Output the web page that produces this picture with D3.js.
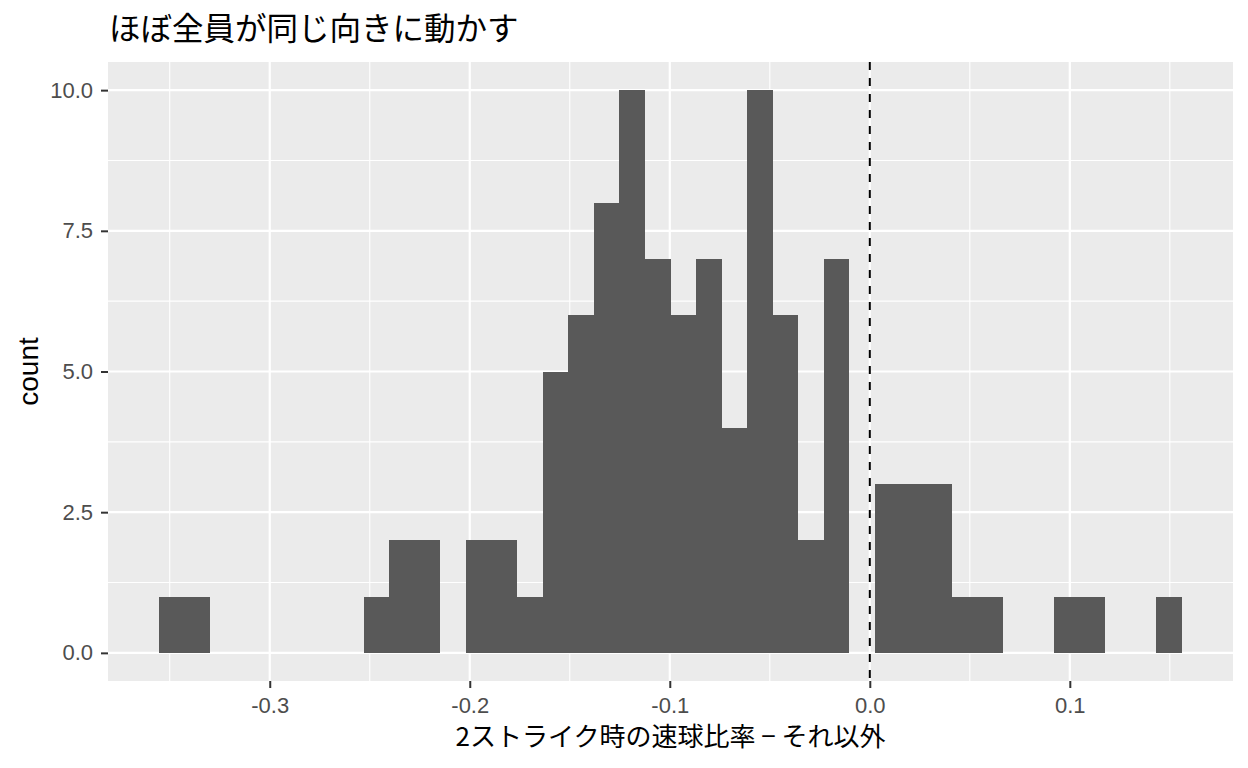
<!DOCTYPE html>
<html>
<head>
<meta charset="utf-8">
<script src="https://cdn.jsdelivr.net/npm/d3@7"></script>
<style>
  body { margin: 0; background: #ffffff; }
</style>
</head>
<body>
<svg id="chart" width="1248" height="768"></svg>
<script>
let width = 1248;
let height = 768;

// histogram bins (40 bins)
const binStart = -0.3553;
const binWidth = 0.012783;
const counts = [1, 1, 0, 0, 0, 0, 0, 0, 1, 2, 2, 0, 2, 2, 1, 5, 6, 8, 10, 7, 6, 7, 4, 10, 6, 2, 7, 0, 3, 3, 3, 1, 1, 0, 0, 1, 1, 0, 0, 1];

const xTicks = [-0.3, -0.2, -0.1, 0.0, 0.1];
const xMinor = [-0.35, -0.25, -0.15, -0.05, 0.05, 0.15];
const yTicks = [0, 2.5, 5, 7.5, 10];
const yMinor = [1.25, 3.75, 6.25, 8.75];
const refLine = 0;

const titleText = "ほぼ全員が同じ向きに動かす";
const xTitle = "2ストライク時の速球比率 − それ以外";
const yTitle = "count";

let panel = { left: 108, right: 1233, top: 62, bottom: 681 };

let bins = counts.map((c, i) => ({
  x0: binStart + i * binWidth,
  x1: binStart + (i + 1) * binWidth,
  n: c
}));

// ggplot style 5% expansion
let xLo = binStart;
let xHi = binStart + counts.length * binWidth;
let xPad = (xHi - xLo) * 0.05;
let yHi = d3.max(counts);
let yPad = yHi * 0.05;

let x = d3.scaleLinear()
  .domain([xLo - xPad, xHi + xPad])
  .range([panel.left, panel.right]);

let y = d3.scaleLinear()
  .domain([0 - yPad, yHi + yPad])
  .range([panel.bottom, panel.top]);

let fmt = d3.formatLocale({ decimal: ".", thousands: ",", grouping: [3], currency: ["", ""], minus: "-" }).format(".1f");

let svg = d3.select("#chart");

svg.append("rect")
  .attr("width", width)
  .attr("height", height)
  .attr("fill", "#ffffff");

svg.append("rect")
  .attr("x", panel.left)
  .attr("y", panel.top)
  .attr("width", panel.right - panel.left)
  .attr("height", panel.bottom - panel.top)
  .attr("fill", "#EBEBEB");

let grid = svg.append("g");

grid.selectAll(".xminor")
  .data(xMinor)
  .enter()
  .append("line")
  .attr("x1", d => x(d)).attr("x2", d => x(d))
  .attr("y1", panel.top).attr("y2", panel.bottom)
  .attr("stroke", "#ffffff")
  .attr("stroke-width", 1.1);

grid.selectAll(".yminor")
  .data(yMinor)
  .enter()
  .append("line")
  .attr("x1", panel.left).attr("x2", panel.right)
  .attr("y1", d => y(d)).attr("y2", d => y(d))
  .attr("stroke", "#ffffff")
  .attr("stroke-width", 1.1);

grid.selectAll(".xmajor")
  .data(xTicks)
  .enter()
  .append("line")
  .attr("x1", d => x(d)).attr("x2", d => x(d))
  .attr("y1", panel.top).attr("y2", panel.bottom)
  .attr("stroke", "#ffffff")
  .attr("stroke-width", 2.2);

grid.selectAll(".ymajor")
  .data(yTicks)
  .enter()
  .append("line")
  .attr("x1", panel.left).attr("x2", panel.right)
  .attr("y1", d => y(d)).attr("y2", d => y(d))
  .attr("stroke", "#ffffff")
  .attr("stroke-width", 2.2);

// bars, snapped to pixels so neighbours join without seams
svg.append("g")
  .attr("shape-rendering", "crispEdges")
  .selectAll("rect")
  .data(bins.filter(d => d.n > 0))
  .enter()
  .append("rect")
  .attr("x", d => Math.round(x(d.x0)))
  .attr("width", d => Math.round(x(d.x1)) - Math.round(x(d.x0)))
  .attr("y", d => y(d.n))
  .attr("height", d => y(0) - y(d.n))
  .attr("fill", "#595959");

svg.append("line")
  .attr("x1", x(refLine)).attr("x2", x(refLine))
  .attr("y1", panel.top).attr("y2", panel.bottom)
  .attr("stroke", "#000000")
  .attr("stroke-width", 2)
  .attr("stroke-dasharray", "8,8");

let xAxis = svg.append("g")
  .attr("transform", `translate(0,${panel.bottom})`)
  .call(d3.axisBottom(x).tickValues(xTicks).tickFormat(fmt).tickSize(7).tickPadding(9));

let yAxis = svg.append("g")
  .attr("transform", `translate(${panel.left},0)`)
  .call(d3.axisLeft(y).tickValues(yTicks).tickFormat(fmt).tickSize(7).tickPadding(8));

[xAxis, yAxis].forEach(a => {
  a.select(".domain").remove();
  a.selectAll(".tick line").attr("stroke", "#333333").attr("stroke-width", 2);
  a.selectAll(".tick text")
    .attr("fill", "#4D4D4D")
    .style("font-family", "'Liberation Sans', Arial, sans-serif")
    .style("font-size", "22px");
});

svg.append("text")
  .attr("x", panel.left + 1)
  .attr("y", 40)
  .style("font-family", "'Noto Sans CJK JP', sans-serif")
  .style("font-size", "31.5px")
  .attr("fill", "#000000")
  .text(titleText);

svg.append("text")
  .attr("x", (panel.left + panel.right) / 2)
  .attr("y", 746)
  .attr("text-anchor", "middle")
  .style("font-family", "'Noto Sans CJK JP', sans-serif")
  .style("font-size", "26px")
  .attr("fill", "#000000")
  .text(xTitle);

svg.append("text")
  .attr("transform", `translate(38,${(panel.top + panel.bottom) / 2})rotate(-90)`)
  .attr("text-anchor", "middle")
  .style("font-family", "'Liberation Sans', Arial, sans-serif")
  .style("font-size", "28px")
  .attr("fill", "#000000")
  .text(yTitle);
</script>
</body>
</html>
